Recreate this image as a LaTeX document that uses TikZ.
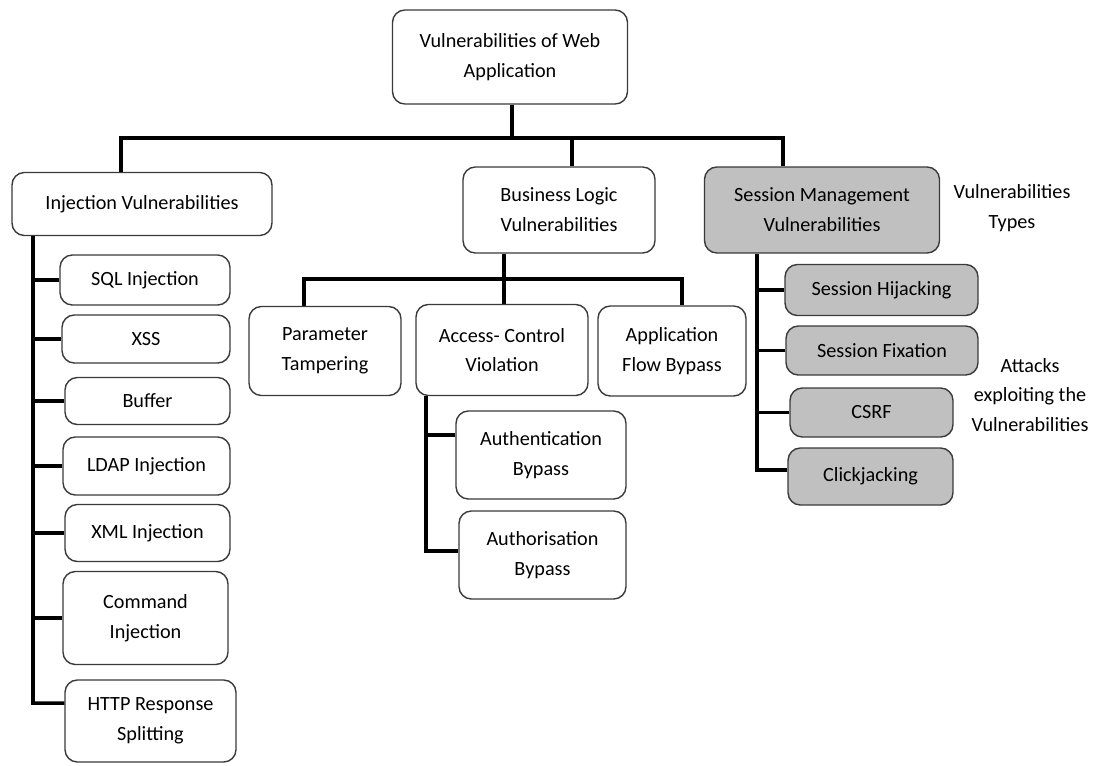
\documentclass[tikz,border=0pt]{standalone}
\usepackage{fontspec}
\setmainfont{Carlito}
\usetikzlibrary{positioning, calc}
\definecolor{boxline}{HTML}{3A3A3A}
\definecolor{sessfill}{HTML}{C0C0C0}
\newcommand{\BoxF}{\fontsize{11.5}{17}\selectfont}
\tikzset{
  box/.style={draw=boxline, line width=0.8pt, rounded corners=7pt, fill=white,
              inner sep=0pt, align=center, font=\BoxF},
  sbox/.style={box, fill=sessfill},
  link/.style={draw=black, line width=2pt},
  note/.style={align=center, font=\BoxF}
}

\begin{document}
\begin{tikzpicture}[x=0.02cm, y=-0.02cm]
  \useasboundingbox (0,0) rectangle (1093,765);

  \node[box, minimum width=4.7cm, minimum height=1.88cm] (root) at (510,57)
    {Vulnerabilities of Web\\Application};

  \node[box, minimum width=5.2cm, minimum height=1.26cm] (inj) at (142,204)
    {Injection Vulnerabilities};
  \node[box, minimum width=3.84cm, minimum height=1.72cm] (biz) at (559,210)
    {Business Logic\\Vulnerabilities};
  \node[sbox, minimum width=4.7cm, minimum height=1.72cm] (ses) at (822,210)
    {Session Management\\Vulnerabilities};
  \node[note] (types) at (1012,208) {Vulnerabilities\\Types};

  \node[box, minimum width=3.4cm, minimum height=1.0cm] (sql) at (145,280) {SQL Injection};
  \node[box, minimum width=3.36cm, minimum height=0.96cm] (xss) at (146,339) {XSS};
  \node[box, minimum width=3.3cm, minimum height=0.94cm] (buf) at (147.5,401) {Buffer};
  \node[box, minimum width=3.34cm, minimum height=1.16cm] (ldap) at (146.5,466) {LDAP Injection};
  \node[box, minimum width=3.3cm, minimum height=1.14cm] (xml) at (147.5,533) {XML Injection};
  \node[box, minimum width=3.3cm, minimum height=1.86cm] (cmd) at (145.5,618) {Command\\Injection};
  \node[box, minimum width=3.42cm, minimum height=1.64cm] (http) at (150.5,721) {HTTP Response\\Splitting};

  \node[box, minimum width=3.04cm, minimum height=1.78cm] (par) at (325,351) {Parameter\\Tampering};
  \node[box, minimum width=3.44cm, minimum height=1.82cm] (acc) at (502,350) {Access- Control\\Violation};
  \node[box, minimum width=2.96cm, minimum height=1.8cm] (app) at (672,351) {Application\\Flow Bypass};
  \node[box, minimum width=3.4cm, minimum height=1.76cm] (athn) at (541,455) {Authentication\\Bypass};
  \node[box, minimum width=3.34cm, minimum height=1.76cm] (athz) at (542.5,555) {Authorisation\\Bypass};

  \node[sbox, minimum width=3.86cm, minimum height=1.02cm] (hij) at (881.5,290) {Session Hijacking};
  \node[sbox, minimum width=3.84cm, minimum height=0.98cm] (fix) at (882,350.5) {Session Fixation};
  \node[sbox, minimum width=3.26cm, minimum height=0.98cm] (csrf) at (871.5,412.5) {CSRF};
  \node[sbox, minimum width=3.3cm, minimum height=1.14cm] (clk) at (870.5,476.5) {Clickjacking};
  \node[note] (attacks) at (1030,395) {Attacks\\exploiting the\\Vulnerabilities};

  \coordinate (top) at (512,138);
  \coordinate (jl) at (121,138);
  \coordinate (jm) at (572,138);
  \coordinate (jr) at (783,138);
  \draw[link] (root.south -| top) -- (top);
  \draw[link] (inj.north -| jl) -- (jl) -- (jr) -- (ses.north -| jr);
  \draw[link] (jm) -- (biz.north -| jm);

  \coordinate (itr) at (33,703);
  \draw[link] (inj.south -| itr) -- (itr) -- ([yshift=0.36cm]http.west);
  \foreach \n in {sql,xss,buf,ldap,xml,cmd}
    \draw[link] (\n.west) -- (\n.west -| itr);

  \coordinate (bl) at (304,279);
  \coordinate (br) at (682,279);
  \draw[link] (par.north -| bl) -- (bl) -- (br) -- (app.north -| br);
  \draw[link] (biz.south -| 504,0) -- (acc.north -| 504,0);

  \coordinate (atr) at (426,551);
  \draw[link] (acc.south -| atr) -- (atr) -- (athz.west |- atr);
  \draw[link] ([yshift=0.4cm]athn.west) -- ([yshift=0.4cm]athn.west -| atr);

  \coordinate (str) at (757,470);
  \draw[link] (ses.south -| str) -- (str) -- (clk.west |- str);
  \foreach \n in {hij,fix,csrf}
    \draw[link] (\n.west) -- (\n.west -| str);
\end{tikzpicture}
\end{document}
